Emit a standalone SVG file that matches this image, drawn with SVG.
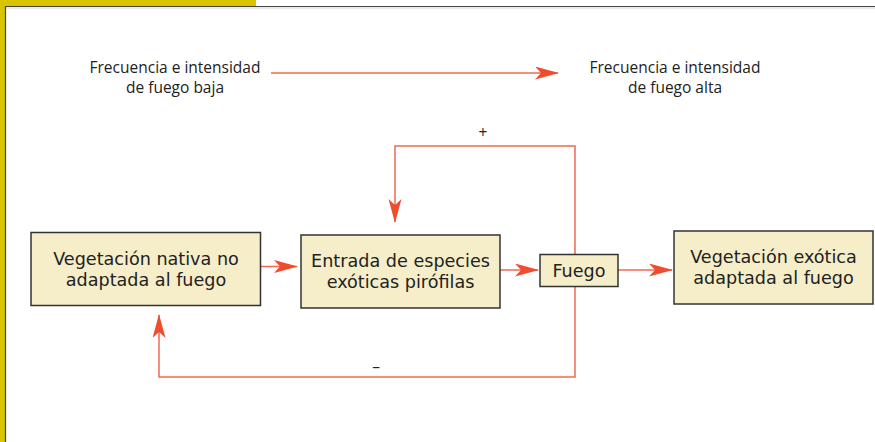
<svg xmlns="http://www.w3.org/2000/svg" width="875" height="442" viewBox="0 0 875 442">
<style>
.box{fill:#f5eec8;stroke:#333;stroke-width:1.5}
.t{font-family:"Open Sans","Noto Sans",sans-serif;fill:#222;text-anchor:middle}
.big{font-family:"DejaVu Sans",sans-serif;font-size:17.6px}
.small{font-size:15.5px}
.ln{fill:none;stroke:#ef6a50;stroke-width:1.5}
</style>
<defs>
<marker id="ah" markerUnits="userSpaceOnUse" markerWidth="24" markerHeight="14" refX="23" refY="6.5" orient="auto">
<path d="M0,0 L24,6.5 L0,13 L6,6.5 z" fill="#ef4c30"/>
</marker>
</defs>
<rect x="0" y="0" width="875" height="442" fill="#fff"/>
<rect x="0" y="0" width="256" height="6" fill="#d9c400"/>
<rect x="0" y="0" width="5" height="442" fill="#d9c400"/>
<line x1="5" y1="6.5" x2="875" y2="6.5" stroke="#444" stroke-width="1.2"/>
<line x1="5.5" y1="6" x2="5.5" y2="442" stroke="#444" stroke-width="1.2"/>
<line x1="6" y1="8" x2="875" y2="8" stroke="#ccc" stroke-width="0.8"/>

<g id="legend">
<text class="t small" x="175" y="73">Frecuencia e intensidad<tspan x="175" dy="20">de fuego baja</tspan></text>
<text class="t small" x="675" y="73">Frecuencia e intensidad<tspan x="675" dy="20">de fuego alta</tspan></text>
</g>

<g id="connectors">
<line class="ln" x1="271" y1="73" x2="558" y2="73" marker-end="url(#ah)"/>
<line class="ln" x1="261" y1="266.5" x2="297" y2="266.5" marker-end="url(#ah)"/>
<line class="ln" x1="500" y1="270" x2="538" y2="270" marker-end="url(#ah)"/>
<line class="ln" x1="618" y1="270" x2="672" y2="270" marker-end="url(#ah)"/>
<polyline class="ln" points="575,254 575,146 395,146 395,222" marker-end="url(#ah)"/>
<polyline class="ln" points="575,287 575,377 159,377 159,315" marker-end="url(#ah)"/>
<text class="t small" x="483" y="138">+</text>
<text class="t small" x="376" y="372">–</text>
</g>

<g id="n1">
<rect class="box" x="31" y="232.5" width="229.5" height="73"/>
<text class="t big" x="146" y="265">Vegetación nativa no<tspan x="146" dy="20.6">adaptada al fuego</tspan></text>
</g>
<g id="n2">
<rect class="box" x="301" y="235" width="199" height="73"/>
<text class="t big" x="400.5" y="267">Entrada de especies<tspan x="400.5" dy="20.6">exóticas pirófilas</tspan></text>
</g>
<g id="n3">
<rect class="box" x="540" y="254.5" width="78" height="32"/>
<text class="t big" x="579" y="277">Fuego</text>
</g>
<g id="n4">
<rect class="box" x="674" y="231" width="199" height="73"/>
<text class="t big" x="773.5" y="263">Vegetación exótica<tspan x="773.5" dy="20.6">adaptada al fuego</tspan></text>
</g>
</svg>
